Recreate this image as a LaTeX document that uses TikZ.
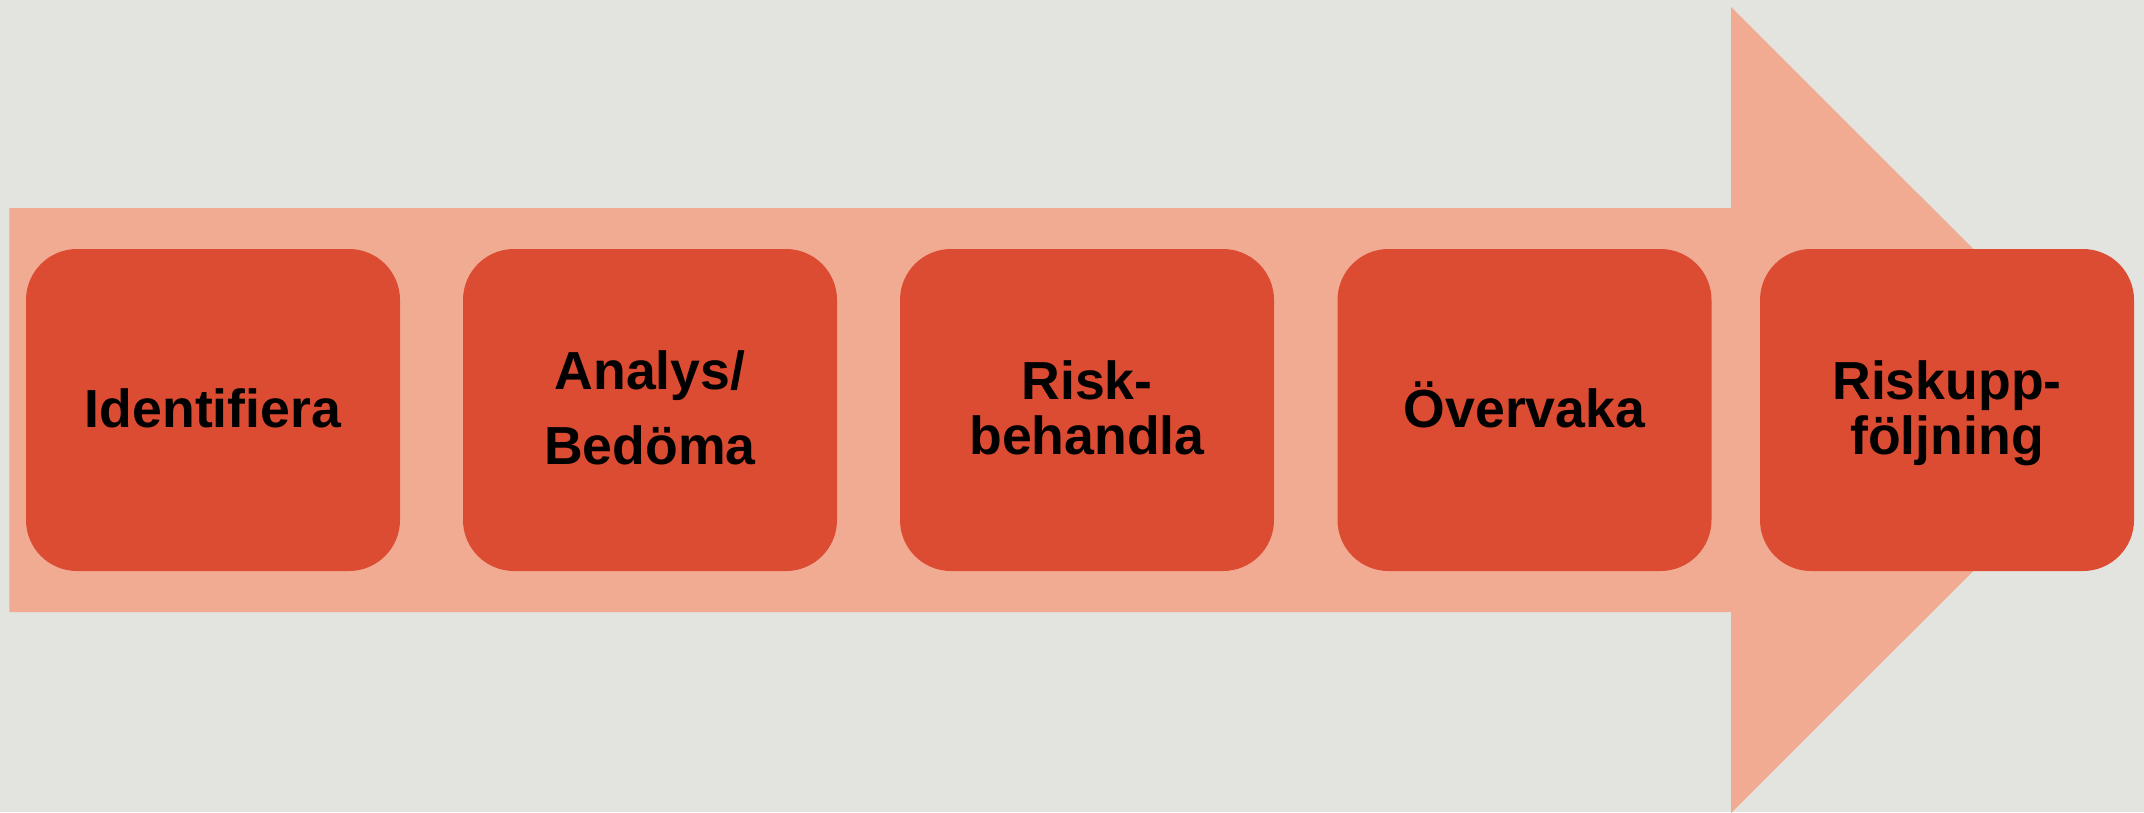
\documentclass[tikz,border=0pt]{standalone}
\usepackage{fontspec}
\newfontfamily\labelfont{Liberation Sans}
\definecolor{pagebg}{RGB}{227,228,223}
\definecolor{arrowfill}{RGB}{241,171,146}
\definecolor{stepfill}{RGB}{219,76,50}
% fixed line metrics so every label block is centred the same way
\newcommand\stepTop{\rule{0pt}{45.5pt}}
\newcommand\stepBot{\rule[-11.5pt]{0pt}{11.5pt}}
\begin{document}
\begin{tikzpicture}[x=1pt,y=-1pt,
  stepbox/.style={rectangle, rounded corners=51pt, fill=stepfill,
    minimum width=374pt, minimum height=322pt, inner sep=0pt,
    align=center, text=black,
    font=\labelfont\bfseries\fontsize{53.6}{55}\selectfont}]
  % canvas
  \fill[pagebg] (0,0) rectangle (2144,812);
  \useasboundingbox (0,0) rectangle (2144,812);
  % block arrow behind the steps
  \fill[arrowfill] (9.3,208) -- (1731,208) -- (1731,7) -- (2134.5,410)
    -- (1731,813) -- (1731,612) -- (9.3,612) -- cycle;
  % process steps
  \node[stepbox] (s1) at (213,410) {\stepTop Identifiera\stepBot};
  \node[stepbox] (s2) at (650,410) {\stepTop Analys/\\[20pt]Bedöma\stepBot};
  \node[stepbox] (s3) at (1087,410) {\stepTop Risk-\\behandla\stepBot};
  \node[stepbox] (s4) at (1524.5,410) {\stepTop Övervaka\stepBot};
  \node[stepbox] (s5) at (1947,410) {\stepTop Riskupp-\\följning\stepBot};
\end{tikzpicture}
\end{document}
